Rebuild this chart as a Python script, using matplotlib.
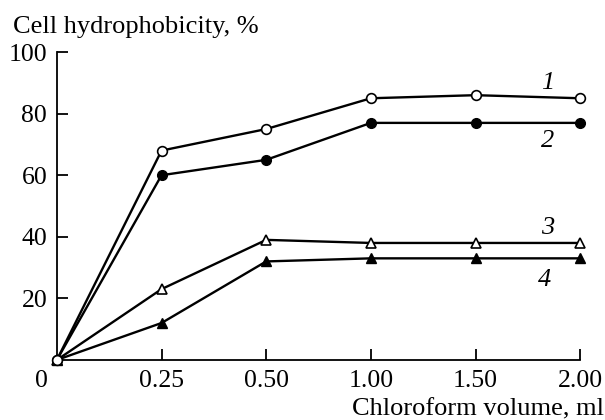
import matplotlib
matplotlib.use("Agg")
import matplotlib.pyplot as plt
from matplotlib.transforms import ScaledTranslation

plt.rcParams['font.family'] = ['Liberation Serif', 'DejaVu Serif']
plt.rcParams['mathtext.fontset'] = 'stix'

x_labels = ["0", "0.25", "0.50", "1.00", "1.50", "2.00"]
x_pos = list(range(len(x_labels)))
s1 = [0, 68, 75, 85, 86, 85]
s2 = [0, 60, 65, 77, 77, 77]
s3 = [0, 23, 39, 38, 38, 38]
s4 = [0, 12, 32, 33, 33, 33]
series_names = ["1", "2", "3", "4"]
name_pos = [(4.69, 90), (4.69, 71), (4.69, 43), (4.66, 26)]
y_ticks = [20, 40, 60, 80, 100]

fig = plt.figure(figsize=(6.05, 4.2), dpi=100)
ax = fig.add_axes([0.094, 0.143, 0.865, 0.733])

lw = 1.7
ax.plot(x_pos, s4, color='black', lw=lw, marker='^', ms=7.5, mfc='black', mec='black', clip_on=False, zorder=3)
ax.plot(x_pos, s3, color='black', lw=lw, marker='^', ms=7.5, mfc='white', mec='black', mew=1.2, clip_on=False, zorder=3)
ax.plot(x_pos, s2, color='black', lw=lw, marker='o', ms=7, mfc='black', mec='black', clip_on=False, zorder=4)
ax.plot(x_pos, s1, color='black', lw=lw, marker='o', ms=7, mfc='white', mec='black', mew=1.2, clip_on=False, zorder=4)

for name, (px, py) in zip(series_names, name_pos):
    ax.text(px, py, name, fontsize=19, style='italic', ha='center', va='center')

ax.set_xlim(0, 5)
ax.set_ylim(0, 100)
ax.set_xticks(x_pos)
ax.set_xticklabels(x_labels)
ax.set_yticks(y_ticks)
ax.set_yticklabels([str(v) for v in y_ticks])
for sp in ['top', 'right']:
    ax.spines[sp].set_visible(False)
for sp in ['left', 'bottom']:
    ax.spines[sp].set_linewidth(1.3)
ax.tick_params(axis='both', direction='in', length=8, width=1.3, labelsize=18.5)
ax.tick_params(axis='x', pad=7)
ax.tick_params(axis='y', pad=7)

lbl0 = ax.get_xticklabels()[0]
lbl0.set_transform(lbl0.get_transform() + ScaledTranslation(-0.15, 0, fig.dpi_scale_trans))
ax.xaxis.get_major_ticks()[0].tick1line.set_visible(False)

fig.text(0.021, 0.921, "Cell hydrophobicity, %", fontsize=19, ha='left', va='baseline')
fig.text(0.999, 0.012, "Chloroform volume, ml", fontsize=19, ha='right', va='baseline')

fig.savefig("out.png", dpi=100)
